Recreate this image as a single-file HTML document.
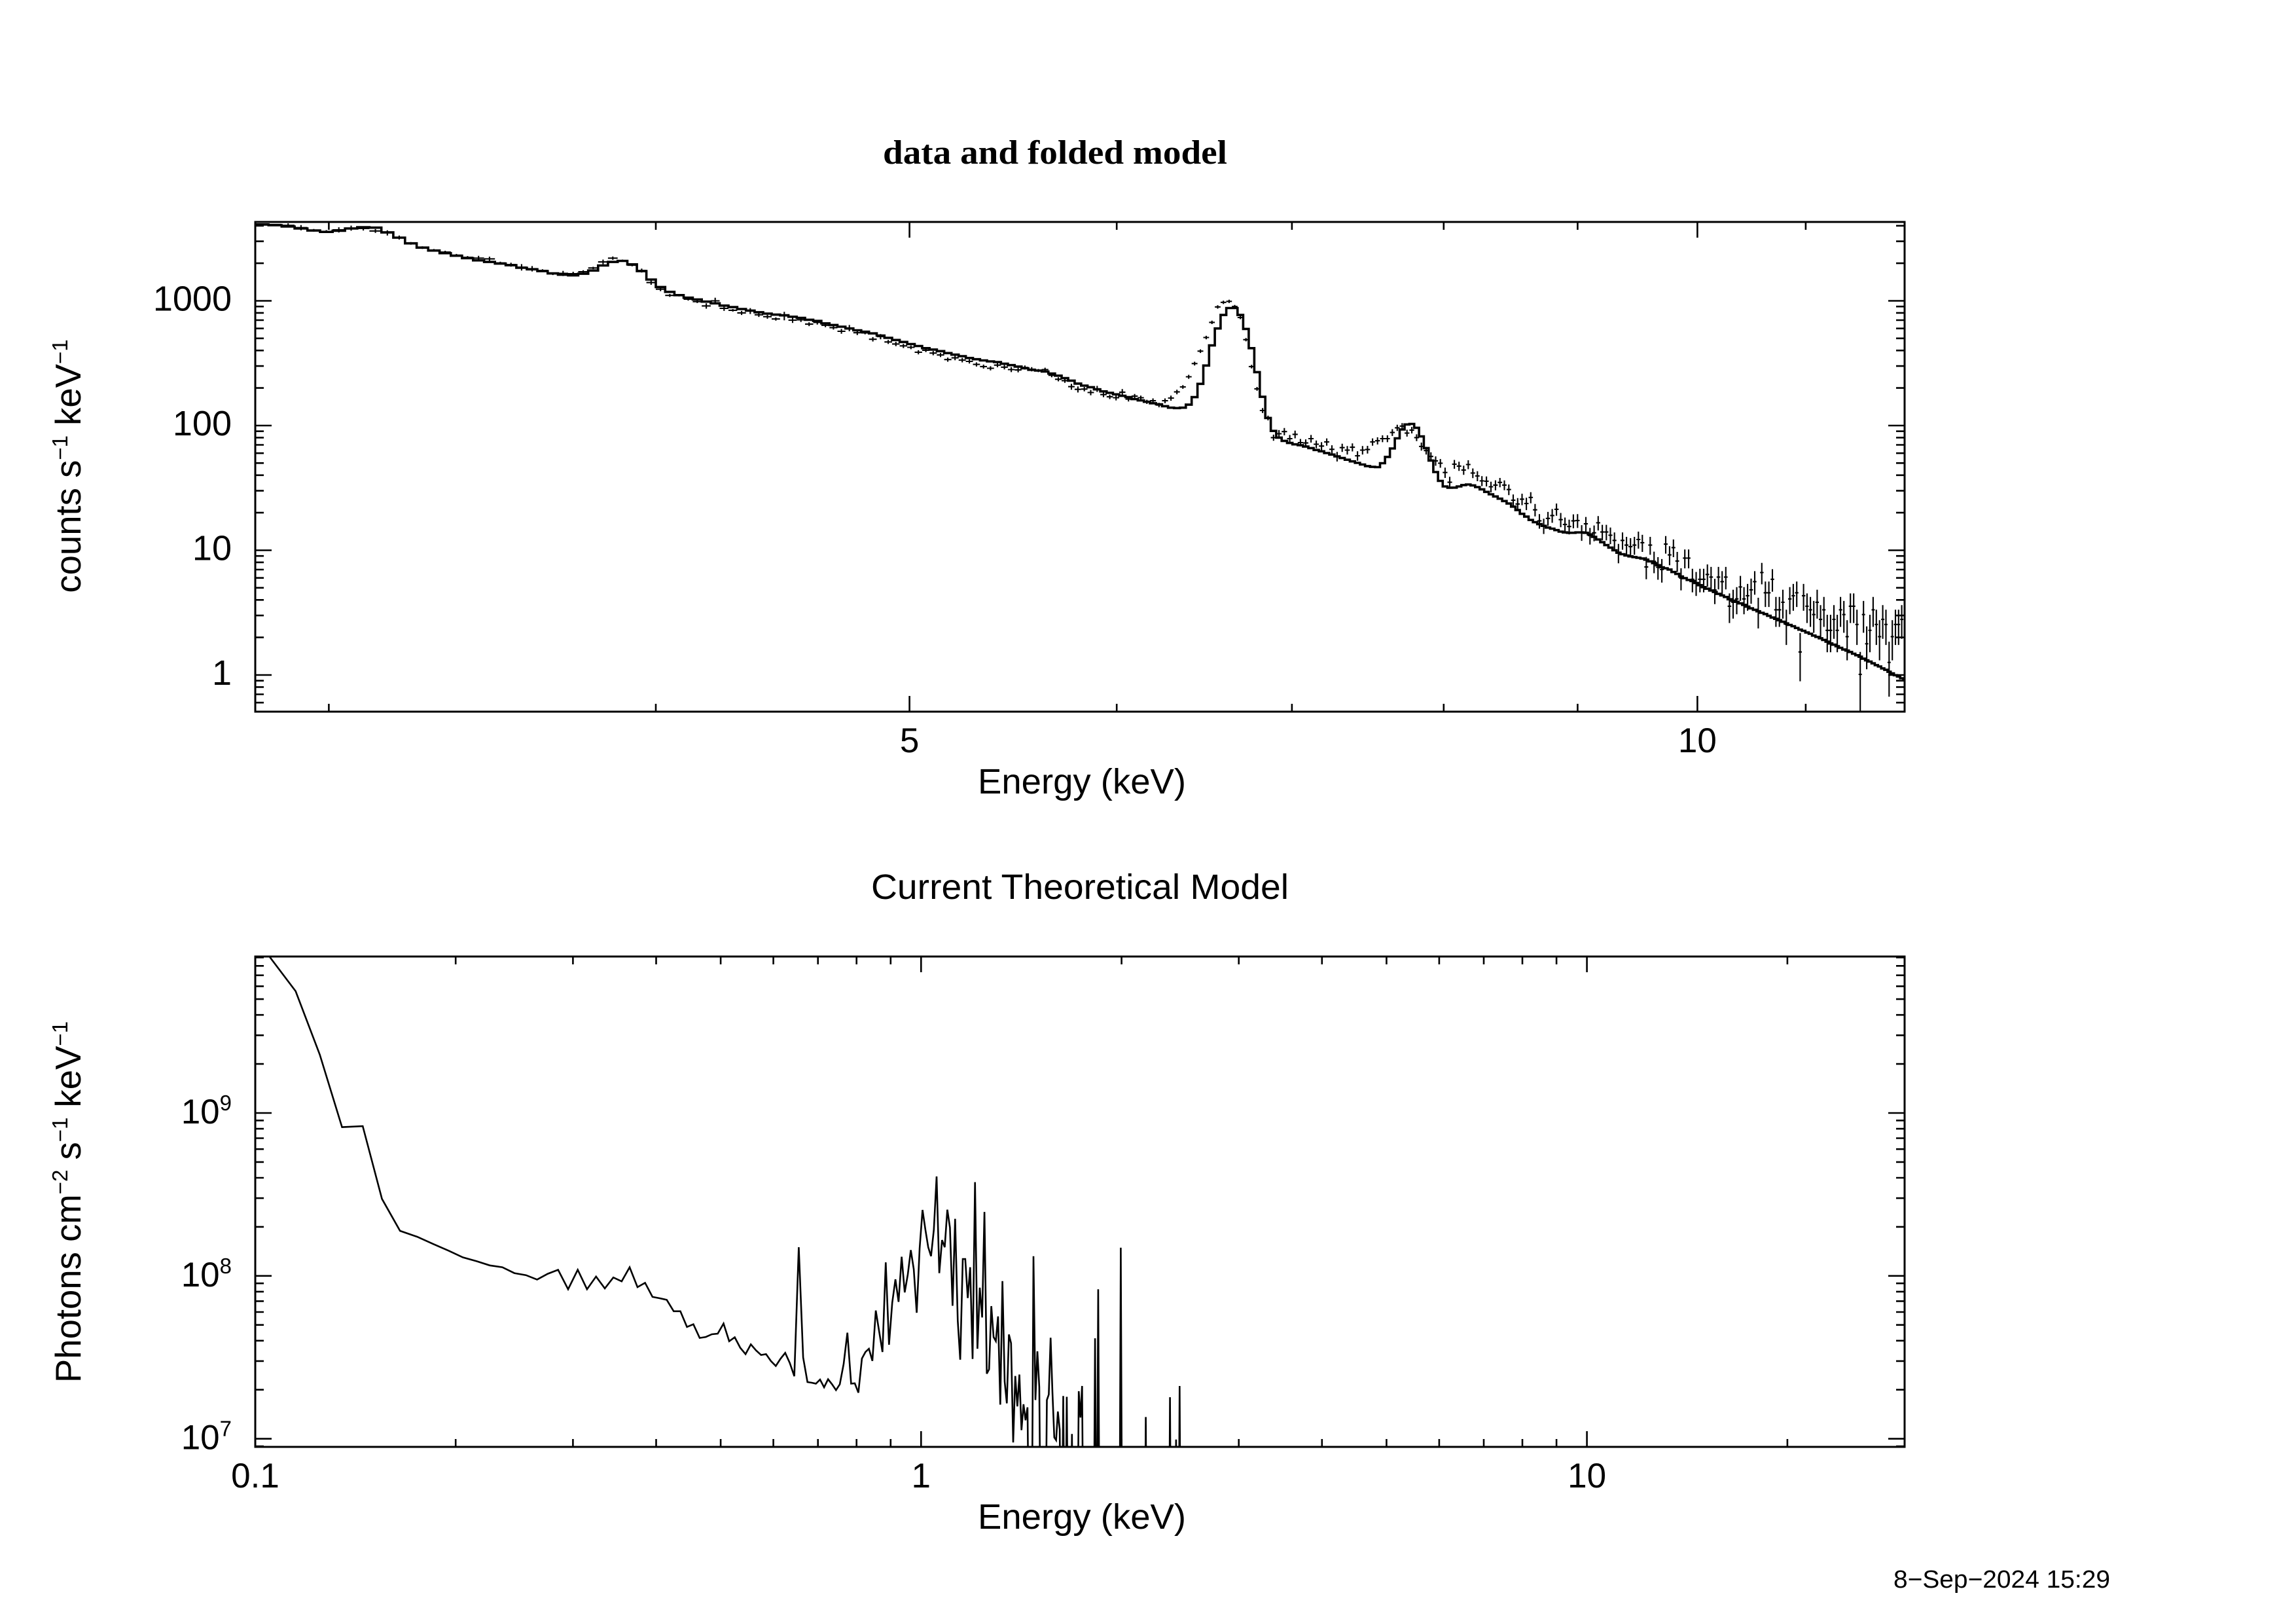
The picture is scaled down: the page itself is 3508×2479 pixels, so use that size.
<!DOCTYPE html>
<html lang="en">
<head>
<meta charset="utf-8">
<title>data and folded model</title>
<style>
html,body{margin:0;padding:0;background:#fff;width:3508px;height:2479px;overflow:hidden}
svg{display:block}
text{font-family:"Liberation Sans",sans-serif;fill:#000}
</style>
</head>
<body>
<svg id="chart" xmlns="http://www.w3.org/2000/svg" width="3508" height="2479" viewBox="0 0 3508 2479">
  <defs>
    <clipPath id="clip-top"><rect x="390" y="339" width="2520" height="748"/></clipPath>
    <clipPath id="clip-bottom"><rect x="390" y="1461" width="2520" height="749"/></clipPath>
  </defs>
  <rect x="0" y="0" width="3508" height="2479" fill="#fff"/>
  <text x="1612" y="250" text-anchor="middle" font-size="52" font-weight="bold" style="font-family:'Liberation Serif',serif" textLength="526" lengthAdjust="spacingAndGlyphs">data and folded model</text>
  <text x="1653" y="1212" text-anchor="middle" font-size="54" textLength="318" lengthAdjust="spacingAndGlyphs">Energy (keV)</text>
  <text transform="translate(123,712) rotate(-90)" text-anchor="middle" font-size="54.5">counts s<tspan font-size="33" dy="-20">−1</tspan><tspan dy="20"> keV</tspan><tspan font-size="33" dy="-20">−1</tspan></text>
  <text x="1650" y="1373" text-anchor="middle" font-size="54" textLength="638" lengthAdjust="spacingAndGlyphs">Current Theoretical Model</text>
  <text x="1653" y="2335" text-anchor="middle" font-size="54" textLength="318" lengthAdjust="spacingAndGlyphs">Energy (keV)</text>
  <text transform="translate(123,1836) rotate(-90)" text-anchor="middle" font-size="54.5">Photons cm<tspan font-size="33" dy="-20">−2</tspan><tspan dy="20"> s</tspan><tspan font-size="33" dy="-20">−1</tspan><tspan dy="20"> keV</tspan><tspan font-size="33" dy="-20">−1</tspan></text>
  <text x="3224" y="2425" text-anchor="end" font-size="38" textLength="331" lengthAdjust="spacingAndGlyphs">8−Sep−2024 15:29</text>
  <g id="top-marks" clip-path="url(#clip-top)"></g>
  <g id="bottom-marks" clip-path="url(#clip-bottom)"></g>
  <g id="axes"></g>
</svg>
<script>
// ---- Folded-model panel data (constant-width energy bins) ----
const binStartKeV = 2.812;
const binWidthKeV = 0.033;
const modelCounts = [
4090,4040,3940,3800,3660,3570,3650,3800,3890,3860,
3540,3210,2890,2670,2530,2410,2300,2200,2110,2050,
1990,1930,1840,1790,1730,1660,1620,1600,1650,1750,
1920,2050,2090,1960,1730,1480,1290,1180,1110,1060,
1025,985,955,915,890,860,835,810,790,775,
765,745,730,705,690,660,640,620,600,580,
565,548,527,505,485,468,450,434,417,407,
395,381,370,360,348,340,333,327,323,313,
305,297,288,280,276,271,261,251,240,229,
217,209,203,195,188,183,178,173,169,163,
159,155,151,148,143,139,138,139,147,169,
216,303,439,600,770,875,875,770,595,417,
268,170,115,90.5,80,75.3,72.5,70.7,69.6,67.8,
66,63.7,62.2,60.2,58.5,56.6,54.9,53.2,51.6,50.2,
48.7,47.3,46.6,46.4,49.9,56,65.5,79,93,102,
103,96,81.8,66,52.4,42.4,36,32.5,31.7,31.8,
32.5,33.3,33.7,33.1,32.1,30.8,29.4,28.1,27,25.9,
24.8,23.7,22.4,21,19.6,18.6,17.5,16.8,16.2,15.7,
15.2,14.9,14.5,14.1,13.9,13.8,13.8,13.9,13.9,13.8,
13.4,12.8,12.2,11.6,11,10.5,10,9.56,9.3,9.07,
8.93,8.82,8.71,8.58,8.41,8.15,7.88,7.59,7.3,7.17,
7.01,6.69,6.46,6.16,5.97,5.78,5.67,5.46,5.25,5.06,
4.92,4.76,4.63,4.47,4.34,4.22,4.05,3.94,3.86,3.75,
3.65,3.53,3.42,3.33,3.24,3.15,3.08,2.98,2.89,2.82,
2.75,2.67,2.59,2.52,2.46,2.38,2.31,2.26,2.19,2.14,
2.07,2.02,1.97,1.91,1.85,1.79,1.75,1.70,1.65,1.60,
1.57,1.53,1.48,1.44,1.40,1.35,1.31,1.28,1.24,1.20,
1.17,1.13,1.10,1.06,1.03,0.996,0.972,0.941,0.915
];
const dataCounts = [
4130,4090,4030,3860,3680,3600,3710,3830,3800,3630,
3510,3220,2890,2670,2540,2460,2320,2230,2200,2170,
2010,1950,1860,1810,1750,1650,1660,1650,1710,1835,
2050,2200,2100,1930,1750,1400,1240,1105,1110,1030,
985,910,1000,870,840,800,829,773,746,715,
757,700,705,650,672,637,610,570,605,555,
553,492,517,468,451,435,424,387,402,381,
368,338,349,335,327,309,297,288,305,294,
281,279,292,283,276,281,253,235,229,205,
195,196,184,197,177,170,167,185,163,172,
167,155,158,146,158,166,186,204,246,314,
395,508,672,893,972,990,901,735,488,297,
197,132,115,80,86,89.5,78.5,85,73,72.5,
78.5,70.8,68.5,73.9,64.5,56.5,66.5,63.5,67,57.2,
63.5,64.2,73.9,75.5,78.5,78.5,88,96,99,87,
92,80,68,63,56.5,52.1,49.9,42,35.1,49,
47.3,44,48.7,41.6,39.4,36,35.8,32.3,33.3,35,
33.3,30.7,25.2,23.5,25.7,23.7,26.5,21.1,17.2,15.7,
18,19,21.3,17.6,16.1,15.5,17.2,17.3,13.9,16.3,
13.1,13.8,16.6,14,14,13.2,12,9.56,12,11,
10.7,11,12.2,11.5,7.35,11,8.15,7.3,7,11.2,
9.18,10.5,8.2,5.97,8.66,8.66,5.85,5.5,5.85,5.85,
6.4,6.1,4.8,6.1,5.6,6.1,3.56,3.83,4.07,5.08,
4.07,4.32,4.82,5.6,3.26,6.63,4.56,4.56,5.85,3.33,
3.33,3.83,2.54,4.07,4.32,4.56,1.53,4.32,3.56,3.33,
3.05,3.83,2.79,3.33,2.28,2.28,2.79,2.28,3.33,3.05,
2.03,3.56,3.56,2.54,1.01,3.05,1.78,2.28,3.33,2.54,
2.03,2.79,2.54,1.26,2.03,2.54,2.54,2.79
];
const dataErrors = [
50,50,150,190,90,90,180,180,140,130,
170,120,70,65,60,60,55,55,95,90,
50,70,110,90,40,40,80,60,50,40,
90,70,40,40,65,55,45,30,25,25,
25,45,60,40,20,30,45,30,28,22,
60,35,28,23,27,22,22,25,35,23,
14,20,25,17,18,17,15,15,14,15,
14,13,15,14,13,12,11,11,12,12,
13,12,11,11,8,10,9,9,9,11,
11,8,9,11,8,7,8,11,7,7,
7,6,7,6,7,8,8,7,9,11,
13,16,21,28,30,30,27,22,15,10,
7,6,5,4.5,6,6,5.5,6,5,5,
5.5,5,5,5,5,5,5,5,5,5,
5,4.5,5,5,5,5,5.5,5.5,5.5,5.5,
5.5,5,5,4.5,4.5,4.5,4,4,3.7,4,
4,3.7,4,3.7,3.6,3.3,3.3,3.2,3.1,3,
3,3,2.8,2.7,2.7,2.7,2.7,2.4,2.3,2.2,
2.3,2.4,2.4,2.3,2.2,2.1,2.2,2.2,2,2.2,
2,2,2.2,2,2,2,1.9,1.7,1.9,1.8,
1.8,1.8,1.9,1.8,1.5,1.8,1.6,1.5,1.5,1.8,
1.6,1.7,1.5,1.2,1.5,1.5,1.25,1.2,1.25,1.25,
1.3,1.25,1.1,1.25,1.2,1.25,0.95,1,1,1.15,
1,1.05,1.1,1.2,0.9,1.3,1.05,1.05,1.2,0.9,
0.9,1,0.8,1,1.05,1.05,0.64,1.05,0.95,0.9,
0.87,1,0.84,0.9,0.76,0.76,0.84,0.76,0.9,0.87,
0.72,0.95,0.95,0.8,0.52,0.87,0.67,0.76,0.9,0.8,
0.72,0.84,0.8,0.59,0.72,0.8,0.8,0.84
];
const topXMajorTicks = [5, 10];
const topXMajorLabels = ["5", "10"];
const topXMinorTicks = [3, 4, 6, 7, 8, 9, 11, 12];
const topYMajorTicks = [1, 10, 100, 1000];
const topYMajorLabels = ["1", "10", "100", "1000"];
const topYMinorTicks = [0.6,0.7,0.8,0.9,2,3,4,5,6,7,8,9,20,30,40,50,60,70,80,90,200,300,400,500,600,700,800,900,2000,3000,4000];

// ---- Theoretical-model panel data (0.01 keV bins, first centre 0.105 keV) ----
const fluxFirstKeV = 0.105;
const fluxStepKeV = 0.01;
const modelFlux = [
9.13e9,5.59e9,2.28e9,8.19e8,8.30e8,2.97e8,1.89e8,1.74e8,1.57e8,1.43e8,
1.30e8,1.23e8,1.16e8,1.13e8,1.04e8,1.01e8,9.5e7,1.03e8,1.09e8,8.28e7,
1.09e8,8.28e7,9.91e7,8.37e7,9.78e7,9.25e7,1.13e8,8.53e7,9.07e7,7.43e7,
7.29e7,7.13e7,6.07e7,6.07e7,4.86e7,5.05e7,4.16e7,4.22e7,4.38e7,4.42e7,
5.10e7,3.97e7,4.20e7,3.62e7,3.31e7,3.80e7,3.49e7,3.27e7,3.31e7,3.00e7,
2.80e7,3.10e7,3.37e7,2.92e7,2.42e7,1.50e8,3.16e7,2.23e7,2.21e7,2.18e7,
2.31e7,2.07e7,2.32e7,2.16e7,1.99e7,2.16e7,2.88e7,4.48e7,2.18e7,2.19e7,
1.92e7,3.11e7,3.41e7,3.57e7,3.01e7,6.13e7,4.57e7,3.41e7,1.21e8,3.78e7,
6.83e7,9.53e7,6.93e7,1.31e8,7.92e7,1.02e8,1.44e8,1.10e8,5.94e7,1.48e8,
2.54e8,1.92e8,1.50e8,1.32e8,1.92e8,4.08e8,1.04e8,1.66e8,1.50e8,2.55e8,
1.98e8,6.56e7,2.24e8,5.33e7,3.06e7,1.27e8,1.27e8,7.31e7,1.13e8,3.09e7,
3.76e8,3.57e7,8.47e7,5.56e7,2.47e8,2.51e7,2.67e7,6.52e7,4.21e7,3.98e7,
5.64e7,1.62e7,9.29e7,2.25e7,1.65e7,4.37e7,3.86e7,9.5e6,2.43e7,1.58e7,
2.48e7,1.13e7,1.63e7,1.30e7,1.56e7,1e6,1e6,1.32e8,1.73e7,3.44e7,
2.08e7,1e6,8.9e6,1e6,1.73e7,1.87e7,4.17e7,1.93e7,1.02e7,9.8e6,
1.47e7,1.14e7,1e6,1.83e7,1e6,1.81e7,1e6,1e6,1.07e7,1e6,
1e6,1e6,1.96e7,1.35e7,2.11e7,1e6,1e6,1e6,1e6,1e6,
1e6,1e6,4.14e7,1e6,8.28e7,1e6,1e6,1e6,1e6,1e6,
1e6,1e6,1e6,1e6,1e6,1e6,1e6,1e6,1e6,1.49e8,
1e6,1e6,1e6,1e6,1e6,1e6,1e6,1e6,1e6,1e6,
1e6,1e6,1e6,1e6,1e6,1e6,1e6,1.36e7,1e6,1e6,
1e6,1e6,1e6,1e6,1e6,1e6,1e6,1e6,1e6,1e6,
1e6,1e6,1e6,1e6,1e6,1e6,1.80e7,1e6,1e6,1e6,
1e6,9.9e6,1e6,1e6,2.11e7,1e6
];
const bottomXMajorTicks = [0.1, 1, 10];
const bottomXMajorLabels = ["0.1", "1", "10"];
const bottomXMinorTicks = [0.2,0.3,0.4,0.5,0.6,0.7,0.8,0.9,2,3,4,5,6,7,8,9,20,30];
const bottomYMajorTicks = [1e7, 1e8, 1e9];
const bottomYMajorExponents = ["7", "8", "9"];
const bottomYMinorTicks = [9e6,2e7,3e7,4e7,5e7,6e7,7e7,8e7,9e7,2e8,3e8,4e8,5e8,6e8,7e8,8e8,9e8,2e9,3e9,4e9,5e9,6e9,7e9,8e9,9e9];

// ---- Axis domains ----
const topXDomain = [2.812, 12];
const topYDomain = [0.508, 4290];
const bottomXDomain = [0.1, 30];
const bottomYDomain = [8.92e6, 9.13e9];

// ---- Layout ----
const LEFT = 390, RIGHT = 2910;
const TOP_A = 339, BOT_A = 1087, TOP_B = 1461, BOT_B = 2210;
const NS = "http://www.w3.org/2000/svg";

function logScale(domain, p0, p1) {
  const a = Math.log10(domain[0]);
  const b = Math.log10(domain[1]);
  return function (v) { return p0 + (Math.log10(v) - a) / (b - a) * (p1 - p0); };
}
const xA = logScale(topXDomain, LEFT, RIGHT);
const yA = logScale(topYDomain, BOT_A, TOP_A);
const xB = logScale(bottomXDomain, LEFT, RIGHT);
const yB = logScale(bottomYDomain, BOT_B, TOP_B);

const topMarks = document.getElementById("top-marks");
const bottomMarks = document.getElementById("bottom-marks");
const axes = document.getElementById("axes");

function make(tag, parent) {
  const el = document.createElementNS(NS, tag);
  parent.appendChild(el);
  return el;
}
function pathData(segments) {
  return segments.join("");
}

// Data crosses
dataCounts.forEach(function (v, i) {
  const lo = binStartKeV + i * binWidthKeV;
  const hi = lo + binWidthKeV;
  const mid = lo + binWidthKeV / 2;
  const err = dataErrors[i];
  const low = Math.max(v - err, 0.01);
  const cross = make("path", topMarks);
  
  
  cross.setAttribute("d", "M" + xA(lo).toFixed(1) + " " + yA(v).toFixed(1) + "H" + xA(hi).toFixed(1) +
    "M" + xA(mid).toFixed(1) + " " + yA(v + err).toFixed(1) + "V" + yA(low).toFixed(1));
  cross.setAttribute("fill", "none");
  cross.setAttribute("stroke", "#000");
  cross.setAttribute("stroke-width", "2.1");
});

// Folded model histogram
const stepSegments = [];
modelCounts.forEach(function (v, i) {
  const lo = binStartKeV + i * binWidthKeV;
  const hi = lo + binWidthKeV;
  stepSegments.push((i === 0 ? "M" : "L") + xA(lo).toFixed(1) + " " + yA(v).toFixed(1));
  stepSegments.push("L" + xA(hi).toFixed(1) + " " + yA(v).toFixed(1));
});
const stepLine = make("path", topMarks);


stepLine.setAttribute("d", pathData(stepSegments));
stepLine.setAttribute("fill", "none");
stepLine.setAttribute("stroke", "#000");
stepLine.setAttribute("stroke-width", "3.6");
stepLine.setAttribute("stroke-linejoin", "miter");

// Theoretical model line
const fluxSegments = modelFlux.map(function (v, i) {
  const e = fluxFirstKeV + i * fluxStepKeV;
  return (i === 0 ? "M" : "L") + xB(e).toFixed(1) + " " + yB(v).toFixed(1);
});
const fluxLine = make("path", bottomMarks);


fluxLine.setAttribute("d", pathData(fluxSegments));
fluxLine.setAttribute("fill", "none");
fluxLine.setAttribute("stroke", "#000");
fluxLine.setAttribute("stroke-width", "2.6");
fluxLine.setAttribute("stroke-linejoin", "miter");
fluxLine.setAttribute("stroke-miterlimit", "4");

// Frames
[[TOP_A, BOT_A, 'top-plot-frame'], [TOP_B, BOT_B, 'bottom-plot-frame']].forEach(function (f) {
  const frame = make("rect", axes);
  
  
  frame.setAttribute("x", LEFT);
  frame.setAttribute("y", f[0]);
  frame.setAttribute("width", RIGHT - LEFT);
  frame.setAttribute("height", f[1] - f[0]);
  frame.setAttribute("fill", "none");
  frame.setAttribute("stroke", "#000");
  frame.setAttribute("stroke-width", "3");
});

// Ticks on both sides of each axis
function xTick(pos, top, bottom, len) {
  const t = make("path", axes);
  
  
  t.setAttribute("d", "M" + pos.toFixed(1) + " " + bottom + "v" + (-len) + "M" + pos.toFixed(1) + " " + top + "v" + len);
  t.setAttribute("stroke", "#000");
  t.setAttribute("stroke-width", "2.6");
  t.setAttribute("fill", "none");
}
function yTick(pos, len) {
  const t = make("path", axes);
  
  
  t.setAttribute("d", "M" + LEFT + " " + pos.toFixed(1) + "h" + len + "M" + RIGHT + " " + pos.toFixed(1) + "h" + (-len));
  t.setAttribute("stroke", "#000");
  t.setAttribute("stroke-width", "2.6");
  t.setAttribute("fill", "none");
}
topXMajorTicks.forEach(function (v) { xTick(xA(v), TOP_A, BOT_A, 24); });
topXMinorTicks.forEach(function (v) { xTick(xA(v), TOP_A, BOT_A, 12); });
topYMajorTicks.forEach(function (v) { yTick(yA(v), 25); });
topYMinorTicks.forEach(function (v) { yTick(yA(v), 13); });
bottomXMajorTicks.forEach(function (v) { xTick(xB(v), TOP_B, BOT_B, 24); });
bottomXMinorTicks.forEach(function (v) { xTick(xB(v), TOP_B, BOT_B, 12); });
bottomYMajorTicks.forEach(function (v) { yTick(yB(v), 25); });
bottomYMinorTicks.forEach(function (v) { yTick(yB(v), 13); });

// Tick labels
topXMajorLabels.forEach(function (s, i) {
  const t = make("text", axes);
  
  
  t.setAttribute("x", xA(topXMajorTicks[i]).toFixed(1));
  t.setAttribute("y", "1149");
  t.setAttribute("text-anchor", "middle");
  t.setAttribute("font-size", "53");
  t.textContent = s;
});
topYMajorLabels.forEach(function (s, i) {
  const t = make("text", axes);
  
  
  t.setAttribute("x", "354");
  t.setAttribute("y", (yA(topYMajorTicks[i]) + 15).toFixed(1));
  t.setAttribute("text-anchor", "end");
  t.setAttribute("font-size", "54");
  t.textContent = s;
});
bottomXMajorLabels.forEach(function (s, i) {
  const t = make("text", axes);
  
  
  t.setAttribute("x", xB(bottomXMajorTicks[i]).toFixed(1));
  t.setAttribute("y", "2272");
  t.setAttribute("text-anchor", "middle");
  t.setAttribute("font-size", "53");
  t.textContent = s;
});
bottomYMajorExponents.forEach(function (s, i) {
  const t = make("text", axes);
  
  
  t.setAttribute("x", "354");
  t.setAttribute("y", (yB(bottomYMajorTicks[i]) + 16).toFixed(1));
  t.setAttribute("text-anchor", "end");
  t.setAttribute("font-size", "53");
  const base = make("tspan", t);
  base.textContent = "10";
  const sup = make("tspan", t);
  sup.setAttribute("font-size", "33");
  sup.setAttribute("dy", "-20");
  sup.textContent = s;
});
</script>
</body>
</html>
